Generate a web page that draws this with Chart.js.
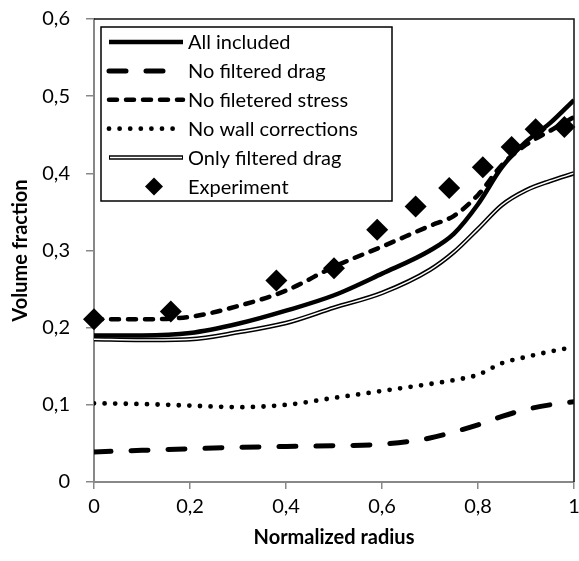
<!DOCTYPE html>
<html>
<head>
<meta charset="utf-8">
<script src="https://cdn.jsdelivr.net/npm/chart.js@4"></script>
<style>
  body { margin: 0; background: #fff; }
</style>
</head>
<body>
<canvas id="chart" width="579" height="561"></canvas>
<script>
// radius positions for the model curves
var radius = [0, 0.1, 0.2, 0.3, 0.4, 0.5, 0.6, 0.7, 0.75, 0.8, 0.85, 0.9, 0.95, 1];
var allIncluded      = [0.190, 0.190, 0.193, 0.205, 0.222, 0.242, 0.270, 0.300, 0.322, 0.360, 0.408, 0.441, 0.465, 0.495];
var noFilteredDrag   = [0.039, 0.041, 0.043, 0.045, 0.046, 0.047, 0.049, 0.057, 0.065, 0.074, 0.085, 0.094, 0.100, 0.104];
var noFilteredStress = [0.211, 0.211, 0.214, 0.228, 0.248, 0.279, 0.305, 0.332, 0.345, 0.372, 0.411, 0.437, 0.455, 0.473];
var noWallCorr       = [0.102, 0.101, 0.099, 0.097, 0.100, 0.109, 0.118, 0.127, 0.132, 0.139, 0.154, 0.162, 0.169, 0.175];
var onlyFilteredDrag = [0.185, 0.184, 0.185, 0.194, 0.206, 0.226, 0.245, 0.275, 0.298, 0.328, 0.359, 0.378, 0.390, 0.400];

// experiment points
var expRadius = [0, 0.16, 0.38, 0.50, 0.59, 0.67, 0.74, 0.81, 0.87, 0.92, 0.98];
var expValues = [0.211, 0.221, 0.261, 0.277, 0.327, 0.357, 0.381, 0.408, 0.434, 0.457, 0.460];

var legendLabels = ['All included', 'No filtered drag', 'No filetered stress', 'No wall corrections', 'Only filtered drag', 'Experiment'];

function pts(xs, ys) {
    return xs.map(function(x, i) { return {x: x, y: ys[i]}; });
}

function fmt(v) {
    return (Math.round(v * 10) / 10).toString().replace('.', ',');
}

var FONT = 'Lato';
var FS = 20;

function lineDs(label, data, width, dash, order) {
    return {
        label: label,
        data: pts(radius, data),
        borderColor: '#000',
        borderWidth: width,
        borderDash: dash,
        borderCapStyle: dash.length ? 'round' : 'butt',
        pointRadius: 0,
        fill: false,
        cubicInterpolationMode: 'monotone',
        order: order
    };
}

var datasets = [
    lineDs(legendLabels[0], allIncluded, 4.5, [], 2),
    lineDs(legendLabels[1], noFilteredDrag, 5, [17, 20], 2),
    lineDs(legendLabels[2], noFilteredStress, 4.5, [8, 9], 2),
    lineDs(legendLabels[3], noWallCorr, 4.8, [0, 10.6], 2),
    lineDs(legendLabels[4], onlyFilteredDrag, 4.5, [], 3),
    lineDs('', onlyFilteredDrag, 1.5, [], 2),
    {
        label: legendLabels[5],
        type: 'scatter',
        data: pts(expRadius, expValues),
        pointStyle: 'rectRot',
        pointRadius: 11,
        backgroundColor: '#000',
        borderColor: '#000',
        borderWidth: 0,
        showLine: false,
        clip: false,
        order: 0
    }
];
datasets[5].borderColor = '#fff';

// top/right frame and the legend box
var framePlugin = {
    id: 'frame',
    afterDraw: function(chart) {
        var ctx = chart.ctx, a = chart.chartArea;
        ctx.save();
        ctx.strokeStyle = '#111';
        ctx.lineWidth = 1.5;
        ctx.beginPath();
        ctx.moveTo(a.left, a.top);
        ctx.lineTo(a.right, a.top);
        ctx.lineTo(a.right, a.bottom);
        ctx.stroke();

        // legend
        var bx = 101, by = 27, bw = 291, bh = 174;
        ctx.fillStyle = '#fff';
        ctx.fillRect(bx, by, bw, bh);
        ctx.strokeStyle = '#000';
        ctx.lineWidth = 1.5;
        ctx.strokeRect(bx, by, bw, bh);

        var x0 = 109, x1 = 183, tx = 188;
        ctx.font = FS + 'px ' + FONT;
        ctx.textBaseline = 'middle';
        ctx.textAlign = 'left';
        for (var i = 0; i < legendLabels.length; i++) {
            var y = 42 + i * 28.9;
            ctx.fillStyle = '#000';
            ctx.fillText(legendLabels[i], tx, y + 1);
            if (i < 5) {
                var ds = datasets[i];
                ctx.beginPath();
                ctx.setLineDash(ds.borderDash);
                ctx.lineCap = ds.borderCapStyle;
                ctx.lineWidth = ds.borderWidth;
                ctx.strokeStyle = '#000';
                ctx.moveTo(x0, y);
                ctx.lineTo(x1, y);
                ctx.stroke();
                if (i == 4) {
                    ctx.beginPath();
                    ctx.lineWidth = 1.5;
                    ctx.strokeStyle = '#fff';
                    ctx.moveTo(x0 + 1, y);
                    ctx.lineTo(x1 - 1, y);
                    ctx.stroke();
                }
                ctx.setLineDash([]);
            } else {
                var cx = 154, r = 9;
                ctx.beginPath();
                ctx.moveTo(cx, y - r);
                ctx.lineTo(cx + r, y);
                ctx.lineTo(cx, y + r);
                ctx.lineTo(cx - r, y);
                ctx.closePath();
                ctx.fill();
            }
        }
        ctx.restore();
    }
};

var ctx = document.getElementById('chart').getContext('2d');
var chart = new Chart(ctx, {
    type: 'line',
    data: { datasets: datasets },
    options: {
        responsive: false,
        animation: false,
        layout: { autoPadding: false, padding: { top: 19, right: 0, left: 0, bottom: 0 } },
        plugins: { legend: { display: false }, tooltip: { enabled: false } },
        scales: {
            x: {
                type: 'linear',
                min: 0, max: 1,
                afterFit: function(s) { s.height = 79; s.paddingRight = 5; s.paddingLeft = 0; },
                ticks: { stepSize: 0.2, padding: 6, color: '#000', font: { family: FONT, size: FS }, callback: fmt, maxRotation: 0 },
                grid: { drawOnChartArea: false, drawTicks: true, tickLength: 7, color: '#888', lineWidth: 1.5 },
                border: { color: '#888', width: 2 },
                title: { display: true, text: 'Normalized radius', color: '#000', font: { family: FONT, size: FS, weight: 'bold', lineHeight: 1.2 }, padding: { top: 4, bottom: 11 } }
            },
            y: {
                min: 0, max: 0.6,
                afterFit: function(s) { s.width = 94; s.paddingTop = 0; s.paddingBottom = 0; },
                ticks: { stepSize: 0.1, padding: 16, color: '#000', font: { family: FONT, size: FS }, callback: fmt },
                grid: { drawOnChartArea: false, drawTicks: true, tickLength: 8, color: '#888', lineWidth: 1.5 },
                border: { color: '#888', width: 2 },
                title: { display: true, text: 'Volume fraction', color: '#000', font: { family: FONT, size: FS, weight: 'bold', lineHeight: 1.2 }, padding: { top: 9, bottom: 4 } }
            }
        }
    },
    plugins: [framePlugin]
});
</script>
</body>
</html>
